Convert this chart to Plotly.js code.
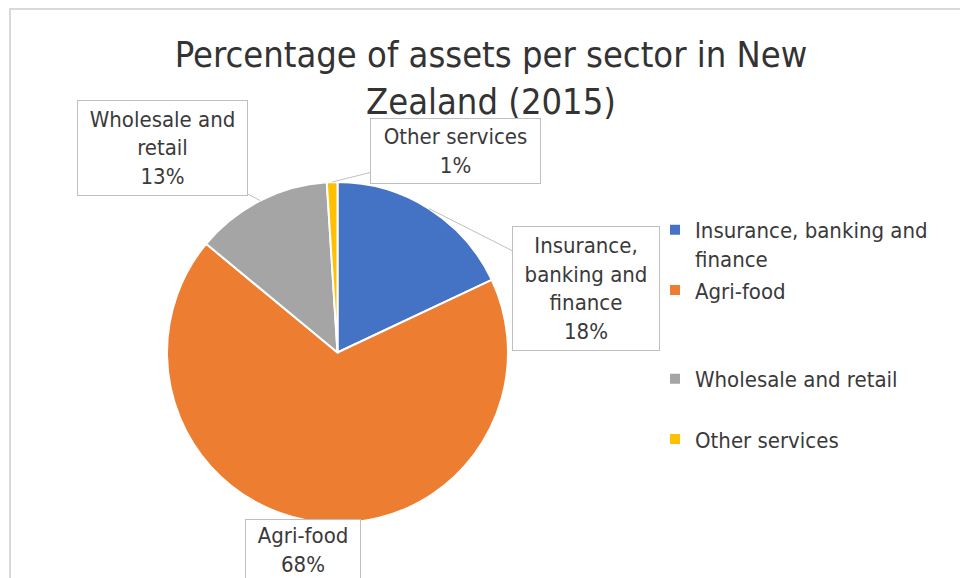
<!DOCTYPE html>
<html>
<head>
<meta charset="utf-8">
<script src="https://cdn.plot.ly/plotly-3.0.1.min.js"></script>
<style>
  html, body { margin: 0; padding: 0; background: #fff; overflow: hidden; }
  #wrap { position: relative; width: 960px; height: 578px; }
  #chart { position: absolute; left: 0; top: 0; width: 960px; height: 578px; }
  #frame { position: absolute; left: 9px; top: 8px; width: 1000px; height: 700px;
           border-left: 2px solid #d9d9d9; border-top: 2px solid #d9d9d9; pointer-events: none; }
</style>
</head>
<body>
<div id="wrap"><div id="chart"></div><div id="frame"></div></div>
<script>
// ---- data ----
const categories = ["Insurance, banking and finance", "Agri-food", "Wholesale and retail", "Other services"];
const values = [18, 68, 13, 1];
const colors = ["#4472C4", "#ED7D31", "#A5A5A5", "#FFC000"];
// wrapped names as shown in the legend and in the data-label boxes
const legendNames = ["Insurance, banking and<br>finance", "Agri-food<br> <br> ", "Wholesale and retail<br> ", "Other services"];
const boxNames = ["Insurance,<br>banking and<br>finance", "Agri-food", "Wholesale and<br>retail", "Other services"];

// ---- layout constants ----
const W = 960, H = 578;
const pieDomX = [167 / W, 508 / W];
const pieDomY = [(H - 523) / H, (H - 182) / H];
const FONT = "'DejaVu Sans Condensed', 'DejaVu Sans', sans-serif";
const TXT = "#3a3a3a";

// label box placement (center px, size px) per category
const boxCenter = [[586, 288], [303, 550], [162, 148], [455, 151]];
const boxSize = [[148, 125], [116, 62], [171, 96], [171, 66]];

const cx = (pieDomX[0] + pieDomX[1]) / 2 * W;
const cy = H - (pieDomY[0] + pieDomY[1]) / 2 * H;
const r = Math.min((pieDomX[1] - pieDomX[0]) * W, (pieDomY[1] - pieDomY[0]) * H) / 2;
const total = values.reduce((a, b) => a + b, 0);

const annotations = [];
let cum = 0;
values.forEach((v, i) => {
  const th = 2 * Math.PI * (cum + v / 2) / total;
  cum += v;
  const px = cx + r * Math.sin(th);
  const py = cy - r * Math.cos(th);
  const pct = Math.round(v / total * 100) + "%";
  annotations.push({
    xref: "paper", yref: "paper",
    x: px / W, y: (H - py) / H,
    ax: boxCenter[i][0] - px, ay: boxCenter[i][1] - py,
    axref: "pixel", ayref: "pixel",
    showarrow: true, arrowhead: 0, arrowwidth: 1, arrowcolor: "#bfbfbf",
    text: boxNames[i] + "<br>" + pct,
    font: { family: FONT, size: 22, color: TXT },
    bgcolor: "#ffffff", bordercolor: "#bfbfbf", borderwidth: 1, borderpad: 1,
    width: boxSize[i][0] - 4, height: boxSize[i][1] - 4,
    align: "center", valign: "middle"
  });
});

const trace = {
  type: "pie",
  labels: legendNames,
  values: values,
  sort: false,
  direction: "clockwise",
  rotation: 0,
  textinfo: "none",
  hoverinfo: "none",
  marker: { colors: colors, line: { color: "#ffffff", width: 2 } },
  domain: { x: pieDomX, y: pieDomY }
};

const layout = {
  width: W, height: H,
  margin: { l: 0, r: 0, t: 0, b: 0 },
  paper_bgcolor: "#ffffff",
  font: { family: FONT, color: TXT },
  title: {
    text: "Percentage of assets per sector in New<br>Zealand (2015)",
    font: { family: FONT, size: 36, color: "#333333" },
    x: 491 / W, xanchor: "center", xref: "paper",
    y: (H - 67) / H, yanchor: "top", yref: "container"
  },
  showlegend: true,
  legend: {
    x: 655 / W, xanchor: "left",
    y: (H - 209) / H, yanchor: "top",
    valign: "top",
    font: { family: FONT, size: 22, color: TXT },
    bgcolor: "rgba(0,0,0,0)"
  },
  annotations: annotations
};

Plotly.newPlot("chart", [trace], layout, { displayModeBar: false, staticPlot: true });
</script>
</body>
</html>
